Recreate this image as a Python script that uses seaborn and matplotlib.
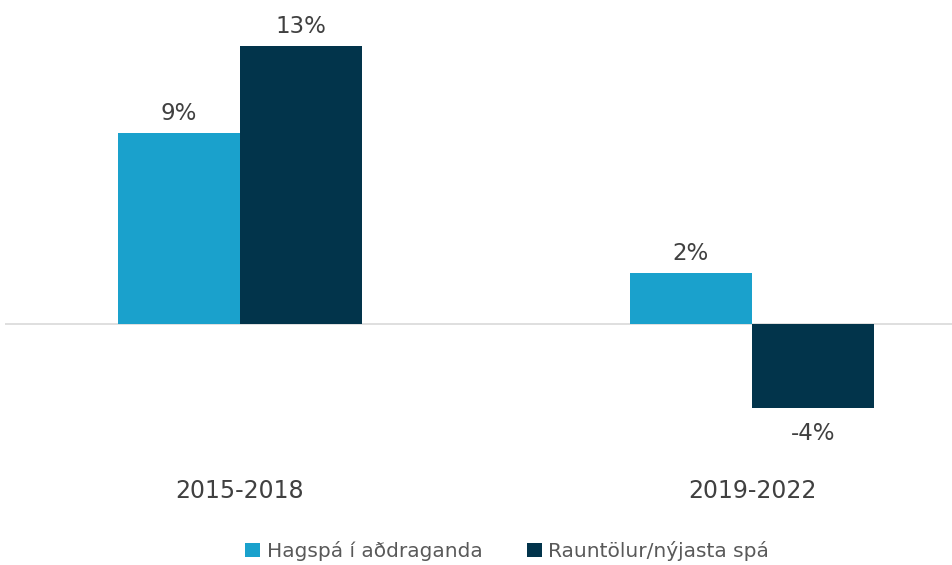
import matplotlib
matplotlib.use("Agg")
import matplotlib.pyplot as plt
import seaborn as sns
import pandas as pd
from matplotlib.patches import Patch

periods = ["2015-2018", "2019-2022"]
series = ["Hagspá í aðdraganda", "Rauntölur/nýjasta spá"]
forecast = [8.9, 2.35]
actual = [13.0, -3.97]
labels_fc = ["9%", "2%"]
labels_ac = ["13%", "-4%"]
colors = ["#1AA1CC", "#02344B"]

df = pd.DataFrame({
    "period": periods * 2,
    "series": [series[0]] * 2 + [series[1]] * 2,
    "value": forecast + actual,
    "label": labels_fc + labels_ac,
})

sns.set_theme(style="white")
plt.rcParams["font.family"] = ["DejaVu Sans"]

fig = plt.figure(figsize=(9.52, 5.65), dpi=100)
ax = fig.add_axes([5 / 952, 1 - 460 / 565, 947 / 952, 460 / 565])

sns.barplot(data=df, x="period", y="value", hue="series", palette=colors,
            width=0.477, gap=0, ax=ax, legend=False, saturation=1,
            edgecolor="none")

ax.set_xlim(-235 / 512, 1 + 200 / 512)
ax.set_ylim(-(460 - 323.5) / 21.35, 323.5 / 21.35)
ax.axhline(0, color="#D9D9D9", lw=1.2, zorder=0)

for c, labs in zip(ax.containers, [labels_fc, labels_ac]):
    for bar, lab in zip(c, labs):
        h = bar.get_height()
        x = bar.get_x() + bar.get_width() / 2
        if h >= 0:
            ax.annotate(lab, (x, h), xytext=(0, 6), textcoords="offset points",
                        ha="center", va="bottom", fontsize=16.5, color="#404040")
        else:
            ax.annotate(lab, (x, h), xytext=(0, -10), textcoords="offset points",
                        ha="center", va="top", fontsize=16.5, color="#404040")

for s in ax.spines.values():
    s.set_visible(False)
ax.set_yticks([])
ax.set_xlabel("")
ax.set_ylabel("")
ax.tick_params(axis="x", length=0, pad=14, labelsize=17, labelcolor="#404040")

handles = [Patch(facecolor=col, edgecolor="none") for col in colors]
fig.legend(handles, series, loc="center", bbox_to_anchor=(507 / 952, 1 - 551 / 565),
           ncol=2, frameon=False, fontsize=14.5, handlelength=0.75, handleheight=0.75,
           handletextpad=0.3, columnspacing=2.2, labelcolor="#595959")

fig.savefig("out.png", dpi=100)
